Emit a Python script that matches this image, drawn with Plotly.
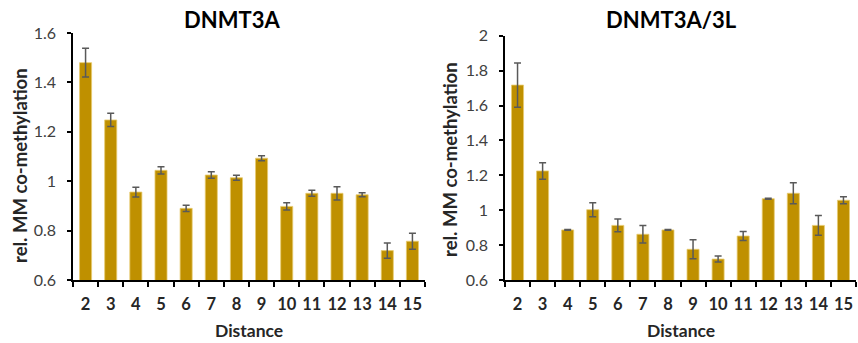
import plotly.graph_objects as go

distance = ["2", "3", "4", "5", "6", "7", "8", "9", "10", "11", "12", "13", "14", "15"]

dnmt3a_values = [1.48, 1.248, 0.956, 1.044, 0.890, 1.025, 1.014, 1.093, 0.898, 0.951, 0.951, 0.945, 0.719, 0.757]
dnmt3a_errors = [0.058, 0.027, 0.02, 0.015, 0.013, 0.013, 0.01, 0.01, 0.015, 0.012, 0.027, 0.008, 0.031, 0.032]

dnmt3a3l_values = [1.717, 1.225, 0.887, 1.003, 0.913, 0.862, 0.887, 0.776, 0.720, 0.852, 1.066, 1.097, 0.913, 1.057]
dnmt3a3l_errors = [0.127, 0.047, 0.002, 0.04, 0.037, 0.05, 0.002, 0.054, 0.017, 0.026, 0.003, 0.06, 0.057, 0.02]

titles = ["DNMT3A", "DNMT3A/3L"]
y_title = "rel. MM co-methylation"
x_title = "Distance"

BAR = "#BF9000"
ERR = "#595959"
FONT = "Lato, 'Open Sans', sans-serif"
W, H = 858, 343

fig = go.Figure()
for i, (vals, errs) in enumerate([(dnmt3a_values, dnmt3a_errors), (dnmt3a3l_values, dnmt3a3l_errors)]):
    xa = "x" if i == 0 else "x2"
    ya = "y" if i == 0 else "y2"
    fig.add_trace(go.Bar(
        x=distance, y=vals, xaxis=xa, yaxis=ya,
        marker=dict(color=BAR, line=dict(color="#E8CC70", width=0.8)),
        error_y=dict(type="data", array=errs, visible=True, color=ERR, thickness=1.5, width=3.5),
        showlegend=False,
    ))

left_dom = [73 / W, 425 / W]
right_dom = [505 / W, 856 / W]
ybot = 1 - 280 / H

line_common = dict(showline=True, linecolor="black", linewidth=1.5, showgrid=False, zeroline=False,
                   ticks="outside", tickcolor="black", tickwidth=1.5, automargin=False)
xfont = dict(size=16.5, family=FONT, color="#262626", weight="bold")
yfont = dict(size=16, family=FONT, color="#404040")

fig.update_layout(
    template="none",
    width=W, height=H, autosize=False,
    margin=dict(l=0, r=0, t=0, b=0, pad=0),
    plot_bgcolor="white", paper_bgcolor="white",
    bargap=0.52,
    font=dict(family=FONT, color="#262626"),
    xaxis=dict(domain=left_dom, anchor="y", type="category", tickson="boundaries", tickangle=0,
               ticklen=5, ticklabelstandoff=8, tickfont=xfont, **line_common),
    yaxis=dict(domain=[ybot, 1 - 33 / H], anchor="x", range=[0.6, 1.6], dtick=0.2, tick0=0.6,
               ticklen=4, ticklabelstandoff=8, tickfont=yfont, **line_common),
    xaxis2=dict(domain=right_dom, anchor="y2", type="category", tickson="boundaries", tickangle=0,
                ticklen=5, ticklabelstandoff=8, tickfont=xfont, **line_common),
    yaxis2=dict(domain=[ybot, 1 - 35.7 / H], anchor="x2", range=[0.6, 2.0], dtick=0.2, tick0=0.6,
                ticklen=4, ticklabelstandoff=8, tickfont=yfont, **line_common),
)

annotations = []
for i, cx in enumerate([232, 671]):
    annotations.append(dict(text=f"<b>{titles[i]}</b>", x=cx / W, y=1 - 20 / H, xref="paper", yref="paper",
                            showarrow=False, font=dict(size=22, family=FONT, color="black"),
                            xanchor="center", yanchor="middle"))
for i, cx in enumerate([249, 681]):
    annotations.append(dict(text=f"<b>{x_title}</b>", x=cx / W, y=1 - 330 / H, xref="paper", yref="paper",
                            showarrow=False, font=dict(size=17.5, family=FONT, color="#262626"),
                            xanchor="center", yanchor="middle"))
for i, (cx, cy) in enumerate([(20, 166), (450, 160)]):
    annotations.append(dict(text=f"<b>{y_title}</b>", x=cx / W, y=1 - cy / H, xref="paper", yref="paper",
                            showarrow=False, textangle=-90, font=dict(size=18.5, family=FONT, color="#262626"),
                            xanchor="center", yanchor="middle"))
fig.update_layout(annotations=annotations)

fig.write_html(
    "out.html",
    config={"displayModeBar": False, "responsive": False},
    post_script="document.body.style.margin='0';document.body.style.padding='0';document.body.style.overflow='hidden';",
)
